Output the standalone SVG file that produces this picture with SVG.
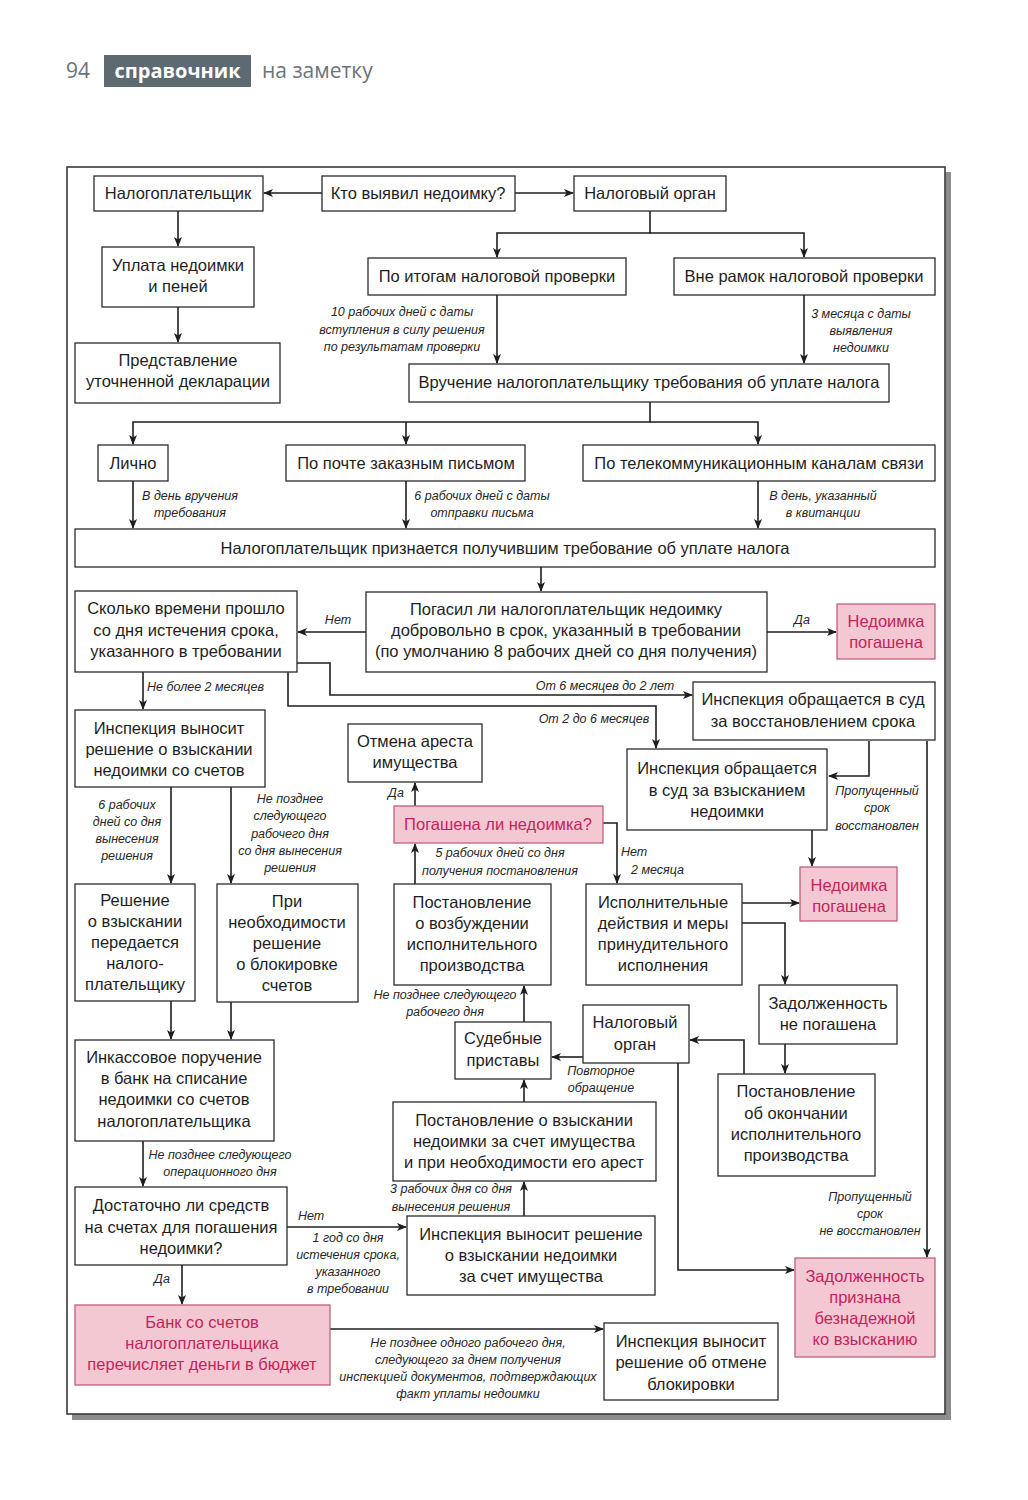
<svg xmlns="http://www.w3.org/2000/svg" width="1028" height="1500" viewBox="0 0 1028 1500">
<style>
.bg{fill:#fff}
.b{fill:#fff;stroke:#2b2b2b;stroke-width:1.3}
.p{fill:#f4c8d2;stroke:#c25f7c;stroke-width:1.3}
.t{font-family:"Liberation Sans",Arial,sans-serif;font-size:16.5px;fill:#1e1e1e;text-anchor:middle}
.pt{fill:#c2245c}
.l{font-family:"Liberation Sans",Arial,sans-serif;font-size:12.5px;font-style:italic;fill:#262626;text-anchor:middle}
.ls{text-anchor:start}
.c{fill:none;stroke:#1e1e1e;stroke-width:1.6;marker-end:url(#a)}
.n{fill:none;stroke:#1e1e1e;stroke-width:1.6}
.h{font-family:"Open Sans","Liberation Sans",sans-serif;font-size:21px;fill:#6b7378}
</style>
<defs>
<marker id="a" markerWidth="10" markerHeight="8" refX="9" refY="4" orient="auto" markerUnits="userSpaceOnUse">
<path d="M0,0 L10,4 L0,8 L2.5,4 Z" fill="#1e1e1e"/>
</marker>
</defs>
<rect class="bg" x="0" y="0" width="1028" height="1500"/>
<g id="header">
<text class="h" x="66" y="78">94</text>
<rect x="104" y="55" width="147" height="32" fill="#5e6a71"/>
<text x="177.5" y="78" font-family="'Open Sans','Liberation Sans',sans-serif" font-size="20" font-weight="bold" fill="#fff" text-anchor="middle">справочник</text>
<text class="h" x="262" y="78">на заметку</text>
</g>
<g id="frame">
<rect x="72" y="172" width="879" height="1248" fill="#8c8c8c"/>
<rect x="67" y="167" width="878" height="1247" fill="#fff" stroke="#3a3a3a" stroke-width="1.6"/>
</g>
<g id="connectors">
<path class="c" d="M322,193 H264"/>
<path class="c" d="M515,193 H573"/>
<path class="c" d="M178,211 V246"/>
<path class="c" d="M178,307 V342"/>
<path class="c" d="M650,211 V233 H497 V257"/>
<path class="c" d="M650,233 H804 V257"/>
<path class="c" d="M497,295 V363"/>
<path class="c" d="M804,295 V363"/>
<path class="c" d="M650,402 V422 H133 V444"/>
<path class="c" d="M406,422 V444"/>
<path class="c" d="M650,422 H758 V444"/>
<path class="c" d="M133,481 V528"/>
<path class="c" d="M406,481 V528"/>
<path class="c" d="M758,481 V528"/>
<path class="c" d="M541,567 V591"/>
<path class="c" d="M366,632 H298"/>
<path class="c" d="M767,632 H836"/>
<path class="c" d="M143,672 V709"/>
<path class="c" d="M297,663 H330 V695 H692"/>
<path class="c" d="M288,672 V706 H656 V748"/>
<path class="c" d="M869,741 V776 H829"/>
<path class="c" d="M927,741 V1257"/>
<path class="c" d="M812,830 V866"/>
<path class="c" d="M171,787 V883"/>
<path class="c" d="M231,787 V883"/>
<path class="c" d="M171,1001 V1039"/>
<path class="c" d="M231,1002 V1039"/>
<path class="c" d="M415,806 V783"/>
<path class="c" d="M415,884 V844"/>
<path class="c" d="M603,823 H617 V883"/>
<path class="c" d="M742,903 H799"/>
<path class="c" d="M742,923 H785 V984"/>
<path class="c" d="M785,1044 V1073"/>
<path class="c" d="M744,1074 V1040 H690"/>
<path class="c" d="M583,1057 H552"/>
<path class="c" d="M678,1063 V1270 H794"/>
<path class="c" d="M524,1022 V986"/>
<path class="c" d="M524,1102 V1080"/>
<path class="c" d="M524,1216 V1182"/>
<path class="c" d="M143,1141 V1186"/>
<path class="c" d="M287,1227 H406"/>
<path class="c" d="M182,1265 V1304"/>
<path class="c" d="M330,1329 H603"/>
</g>
<g id="labels">
<text class="l"><tspan x="402" y="316">10 рабочих дней с даты</tspan><tspan x="402" y="334">вступления в силу решения</tspan><tspan x="402" y="351">по результатам проверки</tspan></text>
<text class="l"><tspan x="861" y="318">3 месяца с даты</tspan><tspan x="861" y="335">выявления</tspan><tspan x="861" y="352">недоимки</tspan></text>
<text class="l"><tspan x="190" y="500">В день вручения</tspan><tspan x="190" y="517">требования</tspan></text>
<text class="l"><tspan x="482" y="500">6 рабочих дней с даты</tspan><tspan x="482" y="517">отправки письма</tspan></text>
<text class="l"><tspan x="823" y="500">В день, указанный</tspan><tspan x="823" y="517">в квитанции</tspan></text>
<text class="l" x="338" y="624">Нет</text>
<text class="l" x="802" y="624">Да</text>
<text class="l ls" x="147" y="691">Не более 2 месяцев</text>
<text class="l" x="605" y="690">От 6 месяцев до 2 лет</text>
<text class="l" x="594" y="723">От 2 до 6 месяцев</text>
<text class="l"><tspan x="877" y="795">Пропущенный</tspan><tspan x="877" y="812">срок</tspan><tspan x="877" y="830">восстановлен</tspan></text>
<text class="l" x="396" y="797">Да</text>
<text class="l"><tspan x="500" y="857">5 рабочих дней со дня</tspan><tspan x="500" y="875">получения постановления</tspan></text>
<text class="l ls"><tspan x="621" y="856">Нет</tspan><tspan x="631" y="874">2 месяца</tspan></text>
<text class="l"><tspan x="127" y="809">6 рабочих</tspan><tspan x="127" y="826">дней со дня</tspan><tspan x="127" y="843">вынесения</tspan><tspan x="127" y="860">решения</tspan></text>
<text class="l"><tspan x="290" y="803">Не позднее</tspan><tspan x="290" y="820">следующего</tspan><tspan x="290" y="838">рабочего дня</tspan><tspan x="290" y="855">со дня вынесения</tspan><tspan x="290" y="872">решения</tspan></text>
<text class="l"><tspan x="445" y="999">Не позднее следующего</tspan><tspan x="445" y="1016">рабочего дня</tspan></text>
<text class="l"><tspan x="601" y="1075">Повторное</tspan><tspan x="601" y="1092">обращение</tspan></text>
<text class="l"><tspan x="220" y="1159">Не позднее следующего</tspan><tspan x="220" y="1176">операционного дня</tspan></text>
<text class="l"><tspan x="451" y="1193">3 рабочих дня со дня</tspan><tspan x="451" y="1211">вынесения решения</tspan></text>
<text class="l"><tspan x="870" y="1201">Пропущенный</tspan><tspan x="870" y="1218">срок</tspan><tspan x="870" y="1235">не восстановлен</tspan></text>
<text class="l ls" x="298" y="1220">Нет</text>
<text class="l"><tspan x="348" y="1242">1 год со дня</tspan><tspan x="348" y="1259">истечения срока,</tspan><tspan x="348" y="1276">указанного</tspan><tspan x="348" y="1293">в требовании</tspan></text>
<text class="l" x="162" y="1283">Да</text>
<text class="l"><tspan x="468" y="1347">Не позднее одного рабочего дня,</tspan><tspan x="468" y="1364">следующего за днем получения</tspan><tspan x="468" y="1381">инспекцией документов, подтверждающих</tspan><tspan x="468" y="1398">факт уплаты недоимки</tspan></text>
</g>
<g id="n1"><rect class="b" x="94" y="176" width="169" height="35"/><text class="t" x="178" y="199">Налогоплательщик</text></g>
<g id="n2"><rect class="b" x="322" y="176" width="193" height="35"/><text class="t" x="418" y="199">Кто выявил недоимку?</text></g>
<g id="n3"><rect class="b" x="574" y="176" width="152" height="35"/><text class="t" x="650" y="199">Налоговый орган</text></g>
<g id="n4"><rect class="b" x="102" y="247" width="152" height="60"/><text class="t"><tspan x="178" y="271">Уплата недоимки</tspan><tspan x="178" y="292">и пеней</tspan></text></g>
<g id="n5"><rect class="b" x="75" y="343" width="205" height="60"/><text class="t"><tspan x="178" y="366">Представление</tspan><tspan x="178" y="387">уточненной декларации</tspan></text></g>
<g id="n6"><rect class="b" x="368" y="258" width="258" height="37"/><text class="t" x="497" y="282">По итогам налоговой проверки</text></g>
<g id="n7"><rect class="b" x="674" y="258" width="261" height="37"/><text class="t" x="804" y="282">Вне рамок налоговой проверки</text></g>
<g id="n8"><rect class="b" x="409" y="364" width="480" height="38"/><text class="t" x="649" y="388">Вручение налогоплательщику требования об уплате налога</text></g>
<g id="n9"><rect class="b" x="98" y="445" width="70" height="36"/><text class="t" x="133" y="469">Лично</text></g>
<g id="n10"><rect class="b" x="286" y="445" width="239" height="36"/><text class="t" x="406" y="469">По почте заказным письмом</text></g>
<g id="n11"><rect class="b" x="583" y="445" width="352" height="36"/><text class="t" x="759" y="469">По телекоммуникационным каналам связи</text></g>
<g id="n12"><rect class="b" x="75" y="529" width="860" height="38"/><text class="t" x="505" y="554">Налогоплательщик признается получившим требование об уплате налога</text></g>
<g id="n13"><rect class="b" x="75" y="591" width="222" height="81"/><text class="t"><tspan x="186" y="614">Сколько времени прошло</tspan><tspan x="186" y="636">со дня истечения срока,</tspan><tspan x="186" y="657">указанного в требовании</tspan></text></g>
<g id="n14"><rect class="b" x="366" y="592" width="401" height="80"/><text class="t"><tspan x="566" y="615">Погасил ли налогоплательщик недоимку</tspan><tspan x="566" y="636">добровольно в срок, указанный в требовании</tspan><tspan x="566" y="657">(по умолчанию 8 рабочих дней со дня получения)</tspan></text></g>
<g id="n15"><rect class="p" x="837" y="604" width="98" height="55"/><text class="t pt"><tspan x="886" y="627">Недоимка</tspan><tspan x="886" y="648">погашена</tspan></text></g>
<g id="n16"><rect class="b" x="693" y="682" width="242" height="58"/><text class="t"><tspan x="813" y="705">Инспекция обращается в суд</tspan><tspan x="813" y="727">за восстановлением срока</tspan></text></g>
<g id="n17"><rect class="b" x="75" y="710" width="190" height="77"/><text class="t"><tspan x="169" y="734">Инспекция выносит</tspan><tspan x="169" y="755">решение о взыскании</tspan><tspan x="169" y="776">недоимки со счетов</tspan></text></g>
<g id="n18"><rect class="b" x="348" y="724" width="134" height="58"/><text class="t"><tspan x="415" y="747">Отмена ареста</tspan><tspan x="415" y="768">имущества</tspan></text></g>
<g id="n19"><rect class="b" x="627" y="749" width="200" height="81"/><text class="t"><tspan x="727" y="774">Инспекция обращается</tspan><tspan x="727" y="796">в суд за взысканием</tspan><tspan x="727" y="817">недоимки</tspan></text></g>
<g id="n20"><rect class="p" x="394" y="806" width="209" height="37"/><text class="t pt" x="498" y="830">Погашена ли недоимка?</text></g>
<g id="n21"><rect class="p" x="800" y="867" width="97" height="54"/><text class="t pt"><tspan x="849" y="891">Недоимка</tspan><tspan x="849" y="912">погашена</tspan></text></g>
<g id="n22"><rect class="b" x="75" y="884" width="120" height="117"/><text class="t"><tspan x="135" y="906">Решение</tspan><tspan x="135" y="927">о взыскании</tspan><tspan x="135" y="948">передается</tspan><tspan x="135" y="969">налого-</tspan><tspan x="135" y="990">плательщику</tspan></text></g>
<g id="n23"><rect class="b" x="217" y="884" width="141" height="118"/><text class="t"><tspan x="287" y="907">При</tspan><tspan x="287" y="928">необходимости</tspan><tspan x="287" y="949">решение</tspan><tspan x="287" y="970">о блокировке</tspan><tspan x="287" y="991">счетов</tspan></text></g>
<g id="n24"><rect class="b" x="394" y="884" width="157" height="101"/><text class="t"><tspan x="472" y="908">Постановление</tspan><tspan x="472" y="929">о возбуждении</tspan><tspan x="472" y="950">исполнительного</tspan><tspan x="472" y="971">производства</tspan></text></g>
<g id="n25"><rect class="b" x="586" y="884" width="156" height="101"/><text class="t"><tspan x="663" y="908">Исполнительные</tspan><tspan x="663" y="929">действия и меры</tspan><tspan x="663" y="950">принудительного</tspan><tspan x="663" y="971">исполнения</tspan></text></g>
<g id="n26"><rect class="b" x="759" y="985" width="138" height="59"/><text class="t"><tspan x="828" y="1009">Задолженность</tspan><tspan x="828" y="1030">не погашена</tspan></text></g>
<g id="n27"><rect class="b" x="583" y="1005" width="106" height="58"/><text class="t"><tspan x="635" y="1028">Налоговый</tspan><tspan x="635" y="1050">орган</tspan></text></g>
<g id="n28"><rect class="b" x="455" y="1022" width="96" height="57"/><text class="t"><tspan x="503" y="1044">Судебные</tspan><tspan x="503" y="1066">приставы</tspan></text></g>
<g id="n29"><rect class="b" x="75" y="1040" width="199" height="101"/><text class="t"><tspan x="174" y="1063">Инкассовое поручение</tspan><tspan x="174" y="1084">в банк на списание</tspan><tspan x="174" y="1105">недоимки со счетов</tspan><tspan x="174" y="1127">налогоплательщика</tspan></text></g>
<g id="n30"><rect class="b" x="718" y="1074" width="157" height="102"/><text class="t"><tspan x="796" y="1097">Постановление</tspan><tspan x="796" y="1119">об окончании</tspan><tspan x="796" y="1140">исполнительного</tspan><tspan x="796" y="1161">производства</tspan></text></g>
<g id="n31"><rect class="b" x="393" y="1102" width="263" height="79"/><text class="t"><tspan x="524" y="1126">Постановление о взыскании</tspan><tspan x="524" y="1147">недоимки за счет имущества</tspan><tspan x="524" y="1168">и при необходимости его арест</tspan></text></g>
<g id="n32"><rect class="b" x="75" y="1187" width="212" height="78"/><text class="t"><tspan x="181" y="1211">Достаточно ли средств</tspan><tspan x="181" y="1233">на счетах для погашения</tspan><tspan x="181" y="1254">недоимки?</tspan></text></g>
<g id="n33"><rect class="b" x="407" y="1216" width="248" height="79"/><text class="t"><tspan x="531" y="1240">Инспекция выносит решение</tspan><tspan x="531" y="1261">о взыскании недоимки</tspan><tspan x="531" y="1282">за счет имущества</tspan></text></g>
<g id="n34"><rect class="p" x="795" y="1258" width="140" height="99"/><text class="t pt"><tspan x="865" y="1282">Задолженность</tspan><tspan x="865" y="1303">признана</tspan><tspan x="865" y="1324">безнадежной</tspan><tspan x="865" y="1345">ко взысканию</tspan></text></g>
<g id="n35"><rect class="p" x="75" y="1305" width="255" height="80"/><text class="t pt"><tspan x="202" y="1328">Банк со счетов</tspan><tspan x="202" y="1349">налогоплательщика</tspan><tspan x="202" y="1370">перечисляет деньги в бюджет</tspan></text></g>
<g id="n36"><rect class="b" x="604" y="1323" width="174" height="77"/><text class="t"><tspan x="691" y="1347">Инспекция выносит</tspan><tspan x="691" y="1368">решение об отмене</tspan><tspan x="691" y="1390">блокировки</tspan></text></g>
</svg>
